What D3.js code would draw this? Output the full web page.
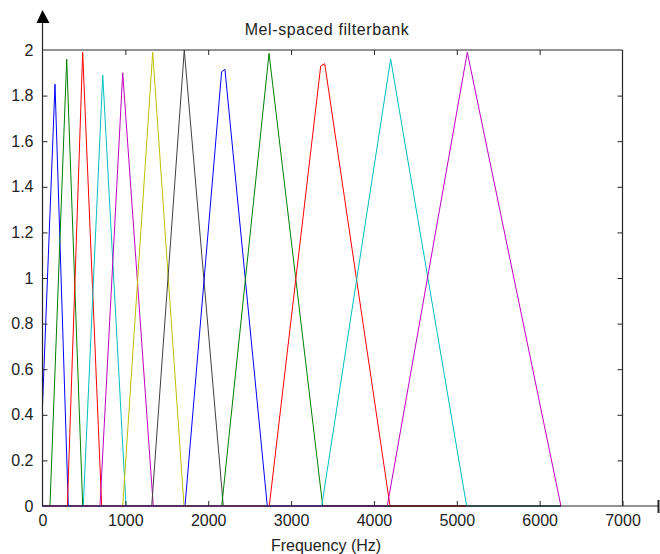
<!DOCTYPE html>
<html>
<head>
<meta charset="utf-8">
<script src="https://cdn.jsdelivr.net/npm/d3@7"></script>
<style>
  body { margin: 0; background: #fff; }
  svg { display: block; }
  text { font-family: "Liberation Sans", Arial, sans-serif; font-size: 16px; fill: #222; }
</style>
</head>
<body>
<svg id="chart" width="660" height="554"></svg>
<script>
// filter shapes (Hz / amplitude)
const filterStart = [0, 90, 300, 492, 694, 968, 1318, 1720, 2163, 2737, 3370, 4161];
const startValue = [0.44, 0, 0, 0, 0, 0, 0, 0, 0, 0, 0, 0];
const filterPeak = [151, 292, 485, 727, 968, 1330, 1711, 2182, 2734, 3382, 4202, 5127];
const peakWidth = [0, 0, 0, 0, 0, 0, 0, 40, 0, 48, 0, 0];
const peakValue = [1.85, 1.96, 1.99, 1.89, 1.90, 1.99, 2.0, 1.915, 1.985, 1.94, 1.96, 1.99];
const filterEnd = [311, 485, 714, 1008, 1337, 1708, 2182, 2713, 3382, 4194, 5119, 6257];
const nyquist = 6250;

const xTicks = [0, 1000, 2000, 3000, 4000, 5000, 6000, 7000];
const yTicks = [0, 0.2, 0.4, 0.6, 0.8, 1, 1.2, 1.4, 1.6, 1.8, 2];
const colors = ['#0000ff', '#008000', '#ff0000', '#00bfbf', '#bf00bf', '#bfbf00', '#404040'];

const svg = d3.select('#chart');
const plotLeft = 42.5, plotRight = 622.5, plotTop = 50, plotBottom = 506;

const x = d3.scaleLinear().domain([0, 7000]).range([plotLeft, plotRight]);
const y = d3.scaleLinear().domain([0, 2]).range([plotBottom, plotTop]);
const axisColor = '#262626';

// filters
const line = d3.line().x(d => x(d[0])).y(d => y(d[1]));
const filters = filterPeak.map((p, i) => {
  const pts = [[0, 0]];
  if (filterStart[i] > 0) pts.push([filterStart[i], 0]);
  else pts.push([0, startValue[i]]);
  if (peakWidth[i] > 0) {
    pts.push([p - peakWidth[i] / 2, peakValue[i] - 0.01]);
    pts.push([p + peakWidth[i] / 2, peakValue[i]]);
  } else {
    pts.push([p, peakValue[i]]);
  }
  pts.push([filterEnd[i], 0]);
  if (filterEnd[i] < nyquist) pts.push([nyquist, 0]);
  return pts;
});

svg.append('g')
  .selectAll('path')
  .data(filters)
  .enter()
  .append('path')
  .attr('d', line)
  .attr('fill', 'none')
  .attr('stroke', (d, i) => colors[i % colors.length])
  .attr('stroke-width', 1);

// box lines
const frame = svg.append('g').attr('stroke', axisColor).attr('stroke-width', 1.2);
frame.append('line').attr('x1', plotLeft).attr('x2', plotRight).attr('y1', plotTop).attr('y2', plotTop);
frame.append('line').attr('x1', plotRight).attr('x2', plotRight).attr('y1', plotTop).attr('y2', plotBottom);
frame.append('line').attr('x1', plotLeft).attr('x2', 659).attr('y1', plotBottom).attr('y2', plotBottom);
frame.append('line').attr('x1', plotLeft).attr('x2', plotLeft).attr('y1', plotBottom).attr('y2', 20);
frame.append('line').attr('x1', 658.5).attr('x2', 658.5).attr('y1', 500).attr('y2', 513).attr('stroke-width', 2);

// arrow on the y axis
svg.append('path')
  .attr('d', `M${plotLeft},10 L${plotLeft + 7},23 L${plotLeft - 6},23 Z`)
  .attr('fill', '#000');

// axes with inward ticks
const xAxis = svg.append('g')
  .attr('transform', `translate(0,${plotBottom})`)
  .call(d3.axisBottom(x).tickValues(xTicks).tickSize(-5).tickPadding(9).tickFormat(d3.format('d')).tickSizeOuter(0));
const xTop = svg.append('g')
  .attr('transform', `translate(0,${plotTop})`)
  .call(d3.axisTop(x).tickValues(xTicks.slice(1, -1)).tickSize(-5).tickFormat('').tickSizeOuter(0));
const yAxis = svg.append('g')
  .attr('transform', `translate(${plotLeft},0)`)
  .call(d3.axisLeft(y).tickValues(yTicks).tickSize(-5).tickPadding(9).tickFormat(d3.format('~g')).tickSizeOuter(0));
const yRight = svg.append('g')
  .attr('transform', `translate(${plotRight},0)`)
  .call(d3.axisRight(y).tickValues(yTicks.slice(1, -1)).tickSize(-5).tickFormat('').tickSizeOuter(0));

[xAxis, xTop, yAxis, yRight].forEach(g => {
  g.select('.domain').remove();
  g.selectAll('line').attr('stroke', axisColor);
  g.selectAll('text').attr('font-family', null).attr('font-size', null).attr('fill', '#222');
});
xAxis.selectAll('.tick').filter(d => d === 0).select('line').remove();
yAxis.selectAll('.tick').filter(d => d === 0 || d === 2).select('line').remove();

// labels
svg.append('text')
  .attr('x', 327).attr('y', 35)
  .attr('text-anchor', 'middle')
  .attr('letter-spacing', '0.6px')
  .text('Mel-spaced filterbank');
svg.append('text')
  .attr('x', 326).attr('y', 551)
  .attr('text-anchor', 'middle')
  .text('Frequency (Hz)');
</script>
</body>
</html>
